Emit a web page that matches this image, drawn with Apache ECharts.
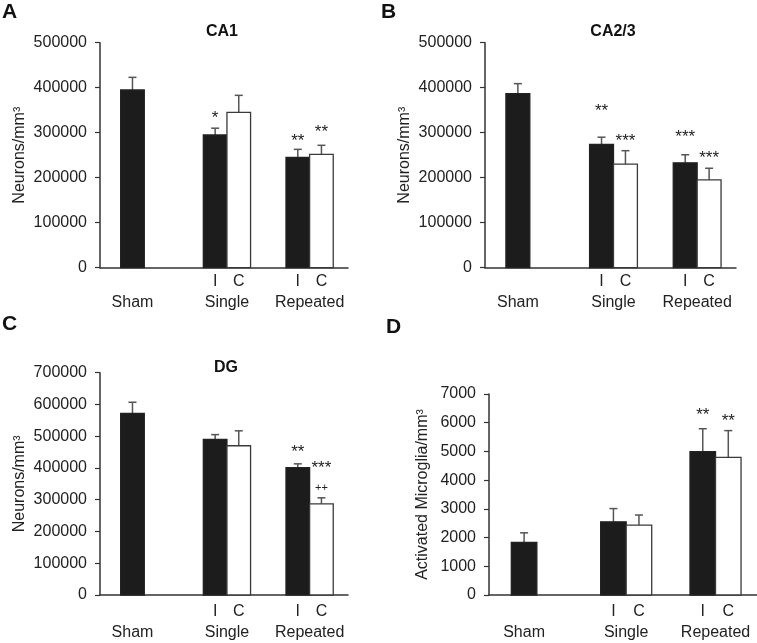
<!DOCTYPE html>
<html>
<head>
<meta charset="utf-8">
<script src="https://cdn.jsdelivr.net/npm/echarts@6/dist/echarts.min.js"></script>
<style>
html,body{margin:0;padding:0;background:#fff;}
#chart{width:757px;height:643px;}
</style>
</head>
<body>
<div id="chart"></div>
<script>
// ---- data ----
const groups = ['Sham', 'Single', 'Repeated'];
const subLabels = ['I', 'C'];
const barNames = ['Sham', 'Single I', 'Single C', 'Repeated I', 'Repeated C'];
const isCBar = [0, 0, 1, 0, 1];

const ca1Mean = [395000, 295000, 345000, 245000, 252000];
const ca1Sem  = [28000, 15000, 38000, 18000, 20000];
const ca1Sig  = ['', '*', '', '**', '**'];
const ca1Sig2 = ['', '', '', '', ''];

const ca23Mean = [387000, 274000, 230000, 233000, 195000];
const ca23Sem  = [22000, 16000, 30000, 18000, 26000];
const ca23Sig  = ['', '**', '***', '***', '***'];
const ca23Sig2 = ['', '', '', '', ''];

const dgMean = [572000, 490000, 470000, 401000, 287000];
const dgSem  = [35000, 15000, 47000, 12000, 19000];
const dgSig  = ['', '', '', '**', '***'];
const dgSig2 = ['', '', '', '', '++'];

const micMean = [1830, 2550, 2430, 4990, 4790];
const micSem  = [335, 460, 355, 800, 935];
const micSig  = ['', '', '', '**', '**'];
const micSig2 = ['', '', '', '', ''];

// ---- layout (not data) ----
const N_SLOTS = 42;
const barSlot = [5, 19, 23, 33, 37];
const labelAt = {5: '\n' + groups[0], 19: subLabels[0], 21: '\n' + groups[1], 23: subLabels[1],
                 33: subLabels[0], 35: '\n' + groups[2], 37: subLabels[1]};
const FONT = "'Liberation Sans', Arial, Helvetica, sans-serif";

const panels = [
  {letter: 'A', lx: 2, ly: 13, title: 'CA1', tx: 222, ty: 32,
   grid: {left: 100, top: 42.7, width: 248, height: 225}, max: 500000, interval: 100000,
   yName: 'Neurons/mm³', nameGap: 72, xMargin: 3,
   mean: ca1Mean, sem: ca1Sem, sig: ca1Sig, sig2: ca1Sig2,
   lift: [0, 14, 0, 12, 17], lift2: [0, 0, 0, 0, 0]},
  {letter: 'B', lx: 381, ly: 13, title: 'CA2/3', tx: 613, ty: 32,
   grid: {left: 485, top: 42.7, width: 251, height: 225}, max: 500000, interval: 100000,
   yName: 'Neurons/mm³', nameGap: 72, xMargin: 3,
   mean: ca23Mean, sem: ca23Sem, sig: ca23Sig, sig2: ca23Sig2,
   lift: [0, 30, 13, 21, 14], lift2: [0, 0, 0, 0, 0]},
  {letter: 'C', lx: 2, ly: 325, title: 'DG', tx: 226, ty: 367.5,
   grid: {left: 100, top: 372.7, width: 248, height: 223.3}, max: 700000, interval: 100000,
   yName: 'Neurons/mm³', nameGap: 72, xMargin: 6,
   mean: dgMean, sem: dgSem, sig: dgSig, sig2: dgSig2,
   lift: [0, 0, 0, 16, 34], lift2: [0, 0, 0, 0, 10]},
  {letter: 'D', lx: 386, ly: 328, title: '', tx: 0, ty: 0,
   grid: {left: 489, top: 394, width: 268, height: 202}, max: 7000, interval: 1000,
   yName: 'Activated Microglia/mm³', nameGap: 58, xMargin: 6,
   mean: micMean, sem: micSem, sig: micSig, sig2: micSig2,
   lift: [0, 0, 0, 17, 13], lift2: [0, 0, 0, 0, 0]}
];

const slotNames = Array.from({length: N_SLOTS}, (_, i) => String(i));

const grids = [], xAxes = [], yAxes = [], series = [], graphics = [];
panels.forEach((p, k) => {
  grids.push(Object.assign({containLabel: false}, p.grid));
  xAxes.push({
    type: 'category', gridIndex: k, data: slotNames, boundaryGap: true,
    axisLine: {lineStyle: {color: '#333', width: 1.5}},
    axisTick: {show: false},
    axisLabel: {interval: 0, fontSize: 16, color: '#222', lineHeight: 21, margin: p.xMargin,
      fontFamily: FONT, formatter: (v, i) => labelAt[i] || ''},
    splitLine: {show: false}
  });
  yAxes.push({
    type: 'value', gridIndex: k, min: 0, max: p.max, interval: p.interval,
    axisLine: {show: true, lineStyle: {color: '#333', width: 1.5}},
    axisTick: {show: true, inside: false, length: 5, lineStyle: {color: '#333', width: 1.2}},
    axisLabel: {fontSize: 16, color: '#222', margin: 13, fontFamily: FONT,
      formatter: (v) => String(Math.round(v))},
    splitLine: {show: false},
    name: p.yName, nameLocation: 'middle', nameGap: p.nameGap,
    nameTextStyle: {fontSize: 16, color: '#222', fontFamily: FONT}
  });
  const data = p.mean.map((m, i) => [barSlot[i], m, p.sem[i], isCBar[i], i]);
  series.push({
    type: 'custom', name: p.title || p.letter, xAxisIndex: k, yAxisIndex: k,
    encode: {x: 0, y: 1}, clip: false,
    data: data,
    renderItem: function (params, api) {
      const x = api.value(0), v = api.value(1), e = api.value(2), c = api.value(3), idx = api.value(4);
      const base = api.coord([x, 0]);
      const top = api.coord([x, v]);
      const et = api.coord([x, v + e]);
      const w = api.size([1, 0])[0] * 4;
      const children = [
        {type: 'line', shape: {x1: top[0], y1: top[1], x2: top[0], y2: et[1]},
         style: {stroke: '#555', lineWidth: 1.5}},
        {type: 'line', shape: {x1: top[0] - 4, y1: et[1], x2: top[0] + 4, y2: et[1]},
         style: {stroke: '#555', lineWidth: 1.5}},
        {type: 'rect', shape: {x: base[0] - w / 2, y: top[1], width: w, height: base[1] - top[1]},
         style: {fill: c ? '#ffffff' : '#1c1c1c', stroke: c ? '#3a3a3a' : '#222', lineWidth: 1.3}}
      ];
      const s = p.sig[idx];
      if (s) {
        children.push({type: 'text', x: top[0], y: et[1] - p.lift[idx] + 4,
          style: {text: s, fill: '#222', font: '17px ' + FONT, align: 'center', verticalAlign: 'middle'}});
      }
      const s2 = p.sig2[idx];
      if (s2) {
        children.push({type: 'text', x: top[0], y: et[1] - p.lift2[idx],
          style: {text: s2, fill: '#222', font: '11px ' + FONT, align: 'center', verticalAlign: 'middle'}});
      }
      return {type: 'group', children: children};
    }
  });
  graphics.push({type: 'text', left: p.lx, top: p.ly - 11,
    style: {text: p.letter, fill: '#111', font: 'bold 21px ' + FONT}});
  if (p.title) {
    graphics.push({type: 'text', x: p.tx, y: p.ty,
      style: {text: p.title, fill: '#111', font: 'bold 16px ' + FONT, align: 'center', verticalAlign: 'middle'}});
  }
});

const chart = echarts.init(document.getElementById('chart'), null, {renderer: 'canvas'});
chart.setOption({
  animation: false,
  backgroundColor: '#fff',
  textStyle: {fontFamily: FONT},
  grid: grids, xAxis: xAxes, yAxis: yAxes, series: series, graphic: graphics
});
</script>
</body>
</html>
